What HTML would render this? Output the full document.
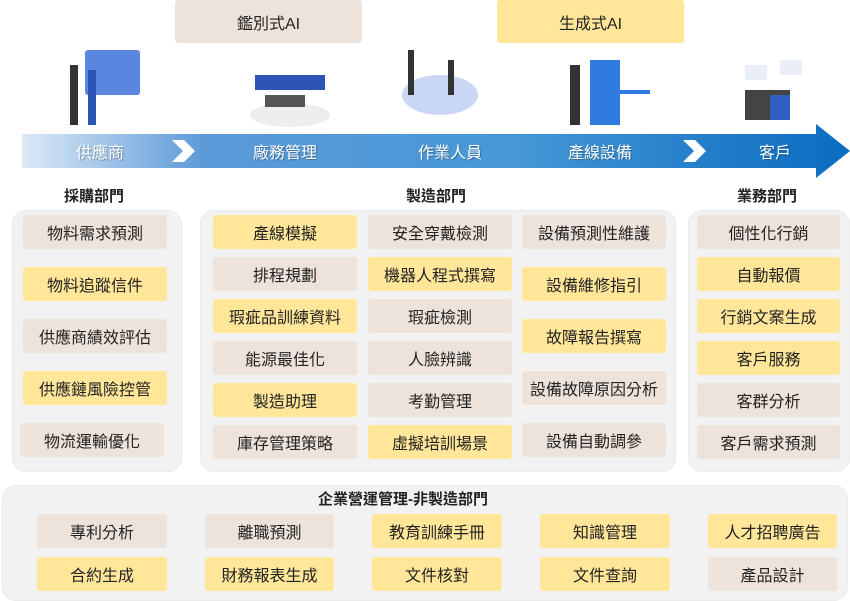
<!DOCTYPE html>
<html><head><meta charset="utf-8"><style>
body{margin:0;width:850px;height:600px;background:#fff;position:relative;overflow:hidden;font-family:"Liberation Sans","Noto Sans CJK TC",sans-serif;}
.a{position:absolute;box-sizing:border-box;display:flex;align-items:center;justify-content:center;font-size:16px;color:#222;white-space:nowrap;}
.b{background:#EEE3DB;border-radius:3px;}
.y{background:#FFE699;border-radius:3px;}
.p{position:absolute;background:#F2F2F2;border:1.5px solid #ebebeb;border-radius:14px;box-sizing:border-box;}
.h{position:absolute;font-size:15px;font-weight:bold;color:#222;}
.w{color:#fff;font-size:16px;text-shadow:1px 1px 1px rgba(0,0,0,.3);}
</style></head><body>
<div class="a b" style="left:175px;top:0;width:187px;height:43px;">鑑別式AI</div>
<div class="a y" style="left:497px;top:0;width:187px;height:43px;">生成式AI</div>

<svg style="position:absolute;left:0;top:40px" width="850" height="90">
<g fill="#3d6fd6">
<rect x="85" y="10" width="55" height="45" rx="3" fill="#5a86e0"/><rect x="70" y="25" width="8" height="60" fill="#333"/><rect x="88" y="30" width="8" height="55" fill="#2c55b5"/>
<ellipse cx="290" cy="75" rx="40" ry="12" fill="#eee"/><rect x="255" y="35" width="70" height="15" fill="#2c55b5"/><rect x="265" y="55" width="40" height="12" fill="#555"/>
<ellipse cx="440" cy="55" rx="38" ry="20" fill="#c9d7f5"/><rect x="408" y="10" width="6" height="45" fill="#333"/><rect x="448" y="20" width="6" height="35" fill="#333"/>
<rect x="590" y="20" width="30" height="65" fill="#2f7be0"/><rect x="570" y="25" width="10" height="60" fill="#333"/><rect x="620" y="50" width="30" height="4" fill="#2f7be0"/>
<rect x="745" y="25" width="22" height="15" fill="#e9eef9"/><rect x="780" y="20" width="22" height="15" fill="#e9eef9"/><rect x="745" y="50" width="45" height="30" fill="#444"/><rect x="770" y="55" width="20" height="25" fill="#2f5fc0"/>
</g></svg>

<svg style="position:absolute;left:0;top:120px" width="850" height="62">
<defs><linearGradient id="g" x1="0" x2="1"><stop offset="0" stop-color="#dce9f7"/><stop offset=".22" stop-color="#5c9ad8"/><stop offset=".6" stop-color="#4597d6"/><stop offset="1" stop-color="#0a6cc0"/></linearGradient></defs>
<polygon points="22,14 816,14 816,4 850,31 816,58 816,48 22,48" fill="url(#g)"/>
<polygon points="172,20 184,20 195,31 184,42 172,42 183,31" fill="#fff"/>
<polygon points="683,20 695,20 706,31 695,42 683,42 694,31" fill="#fff"/>
</svg>
<div class="a w" style="left:60px;top:140px;width:80px;height:22px;">供應商</div>
<div class="a w" style="left:240px;top:140px;width:90px;height:22px;">廠務管理</div>
<div class="a w" style="left:405px;top:140px;width:90px;height:22px;">作業人員</div>
<div class="a w" style="left:555px;top:140px;width:90px;height:22px;">產線設備</div>
<div class="a w" style="left:735px;top:140px;width:80px;height:22px;">客戶</div>

<div class="h" style="left:64px;top:185px;">採購部門</div>
<div class="h" style="left:406px;top:185px;">製造部門</div>
<div class="h" style="left:737px;top:185px;">業務部門</div>

<div class="p" style="left:12px;top:210px;width:170px;height:262px;"></div>
<div class="p" style="left:200px;top:210px;width:476px;height:262px;"></div>
<div class="p" style="left:688px;top:210px;width:162px;height:262px;"></div>
<div class="p" style="left:2px;top:485px;width:846px;height:116px;"></div>

<div class="a b" style="left:23px;top:215px;width:144px;height:34px;">物料需求預測</div>
<div class="a y" style="left:23px;top:267px;width:144px;height:34px;">物料追蹤信件</div>
<div class="a b" style="left:23px;top:319px;width:144px;height:34px;">供應商績效評估</div>
<div class="a y" style="left:23px;top:371px;width:144px;height:34px;">供應鏈風險控管</div>
<div class="a b" style="left:20px;top:423px;width:144px;height:34px;">物流運輸優化</div>

<div class="a y" style="left:213px;top:215px;width:144px;height:34px;">產線模擬</div>
<div class="a b" style="left:213px;top:257px;width:144px;height:34px;">排程規劃</div>
<div class="a y" style="left:213px;top:299px;width:144px;height:34px;">瑕疵品訓練資料</div>
<div class="a b" style="left:213px;top:341px;width:144px;height:34px;">能源最佳化</div>
<div class="a y" style="left:213px;top:383px;width:144px;height:34px;">製造助理</div>
<div class="a b" style="left:213px;top:425px;width:144px;height:34px;">庫存管理策略</div>

<div class="a b" style="left:368px;top:215px;width:144px;height:34px;">安全穿戴檢測</div>
<div class="a y" style="left:368px;top:257px;width:144px;height:34px;">機器人程式撰寫</div>
<div class="a b" style="left:368px;top:299px;width:144px;height:34px;">瑕疵檢測</div>
<div class="a b" style="left:368px;top:341px;width:144px;height:34px;">人臉辨識</div>
<div class="a b" style="left:368px;top:383px;width:144px;height:34px;">考勤管理</div>
<div class="a y" style="left:368px;top:425px;width:144px;height:34px;">虛擬培訓場景</div>

<div class="a b" style="left:522px;top:215px;width:144px;height:34px;">設備預測性維護</div>
<div class="a y" style="left:522px;top:267px;width:144px;height:34px;">設備維修指引</div>
<div class="a y" style="left:522px;top:319px;width:144px;height:34px;">故障報告撰寫</div>
<div class="a b" style="left:522px;top:371px;width:144px;height:34px;">設備故障原因分析</div>
<div class="a b" style="left:522px;top:423px;width:144px;height:34px;">設備自動調參</div>

<div class="a b" style="left:697px;top:215px;width:143px;height:34px;">個性化行銷</div>
<div class="a y" style="left:697px;top:257px;width:143px;height:34px;">自動報價</div>
<div class="a y" style="left:697px;top:299px;width:143px;height:34px;">行銷文案生成</div>
<div class="a y" style="left:697px;top:341px;width:143px;height:34px;">客戶服務</div>
<div class="a b" style="left:697px;top:383px;width:143px;height:34px;">客群分析</div>
<div class="a b" style="left:697px;top:425px;width:143px;height:34px;">客戶需求預測</div>

<div class="h" style="left:318px;top:488px;">企業營運管理-非製造部門</div>
<div class="a b" style="left:37px;top:514px;width:130px;height:34px;">專利分析</div>
<div class="a y" style="left:37px;top:557px;width:130px;height:34px;">合約生成</div>
<div class="a b" style="left:205px;top:514px;width:129px;height:34px;">離職預測</div>
<div class="a y" style="left:205px;top:557px;width:129px;height:34px;">財務報表生成</div>
<div class="a y" style="left:372px;top:514px;width:130px;height:34px;">教育訓練手冊</div>
<div class="a y" style="left:372px;top:557px;width:130px;height:34px;">文件核對</div>
<div class="a y" style="left:540px;top:514px;width:130px;height:34px;">知識管理</div>
<div class="a y" style="left:540px;top:557px;width:130px;height:34px;">文件查詢</div>
<div class="a y" style="left:708px;top:514px;width:129px;height:34px;">人才招聘廣告</div>
<div class="a b" style="left:708px;top:557px;width:129px;height:34px;">產品設計</div>
</body></html>
